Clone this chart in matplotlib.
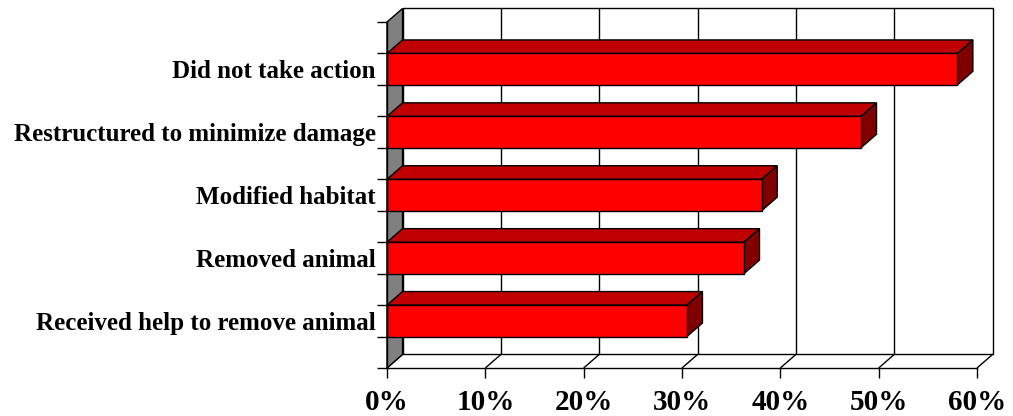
import numpy as np
import matplotlib
matplotlib.use('Agg')
import matplotlib.pyplot as plt
from matplotlib.patches import Polygon

# survey responses, listed bottom to top
categories = ['Received help to remove animal', 'Removed animal', 'Modified habitat',
              'Restructured to minimize damage', 'Did not take action']
values = [30.5, 36.3, 38.1, 48.2, 58.0]
xticks = [0, 10, 20, 30, 40, 50, 60]
xticklabels = ['0%', '10%', '20%', '30%', '40%', '50%', '60%']

W, H = 1013, 416
XMAX, YMAX = 60, 5.5
# depth of the 3d box in data units
DX, DY = 1.58, 0.215

FRONT = '#FF0000'
TOP = '#C00000'
SIDE = '#800000'
WALL = '#808080'

fig = plt.figure(figsize=(W/100, H/100), dpi=100, facecolor='white')
ax = fig.add_axes([387/W, (H-368)/H, (977-387)/W, (368-22)/H])
ax.set_xlim(0, XMAX)
ax.set_ylim(0, YMAX)
ax.set_facecolor('none')

def poly(pts, fc, z, lw=1.0):
    ax.add_patch(Polygon(pts, closed=True, facecolor=fc, edgecolor='black',
                         linewidth=lw, clip_on=False, zorder=z))

def line(xs, ys, z=2, lw=1.0, c='black'):
    ax.plot(xs, ys, color=c, linewidth=lw, clip_on=False, zorder=z, solid_capstyle='butt')

# back wall with vertical gridlines
poly([(DX, DY), (XMAX+DX, DY), (XMAX+DX, YMAX+DY), (DX, YMAX+DY)], 'white', 1)
for x in xticks[1:-1]:
    line([x+DX, x+DX], [DY, YMAX+DY], z=1.5)

# floor
for x in xticks:
    line([x, x+DX], [0, DY], z=1.5)

# left side wall
poly([(0, 0), (0, YMAX), (DX, YMAX+DY), (DX, DY)], WALL, 2)

# bars
for i, v in enumerate(values):
    y0, y1 = i + 0.5, i + 1.0
    poly([(0, y1), (v, y1), (v+DX, y1+DY), (DX, y1+DY)], TOP, 3)
    poly([(v, y0), (v, y1), (v+DX, y1+DY), (v+DX, y0+DY)], SIDE, 3)
    poly([(0, y0), (v, y0), (v, y1), (0, y1)], FRONT, 3)

for s in ['top', 'right']:
    ax.spines[s].set_visible(False)
for s in ['left', 'bottom']:
    ax.spines[s].set_linewidth(1.0)
    ax.spines[s].set_zorder(4)

ax.set_xticks(xticks)
ax.set_xticklabels(xticklabels, fontsize=21, fontweight='bold', family='Liberation Serif')
ax.set_yticks(np.arange(0, YMAX + 0.01, 0.5))
ax.set_yticklabels([])
ax.set_yticks([i + 0.75 for i in range(len(categories))], minor=True)
ax.set_yticklabels(categories, minor=True, fontsize=18, fontweight='bold', family='Liberation Serif')
ax.tick_params(axis='both', which='major', direction='out', length=7, width=1.0, color='black')
ax.tick_params(axis='y', which='minor', length=0, pad=8)
ax.tick_params(axis='x', which='major', pad=8)

fig.savefig('out.png', dpi=100, facecolor='white')
